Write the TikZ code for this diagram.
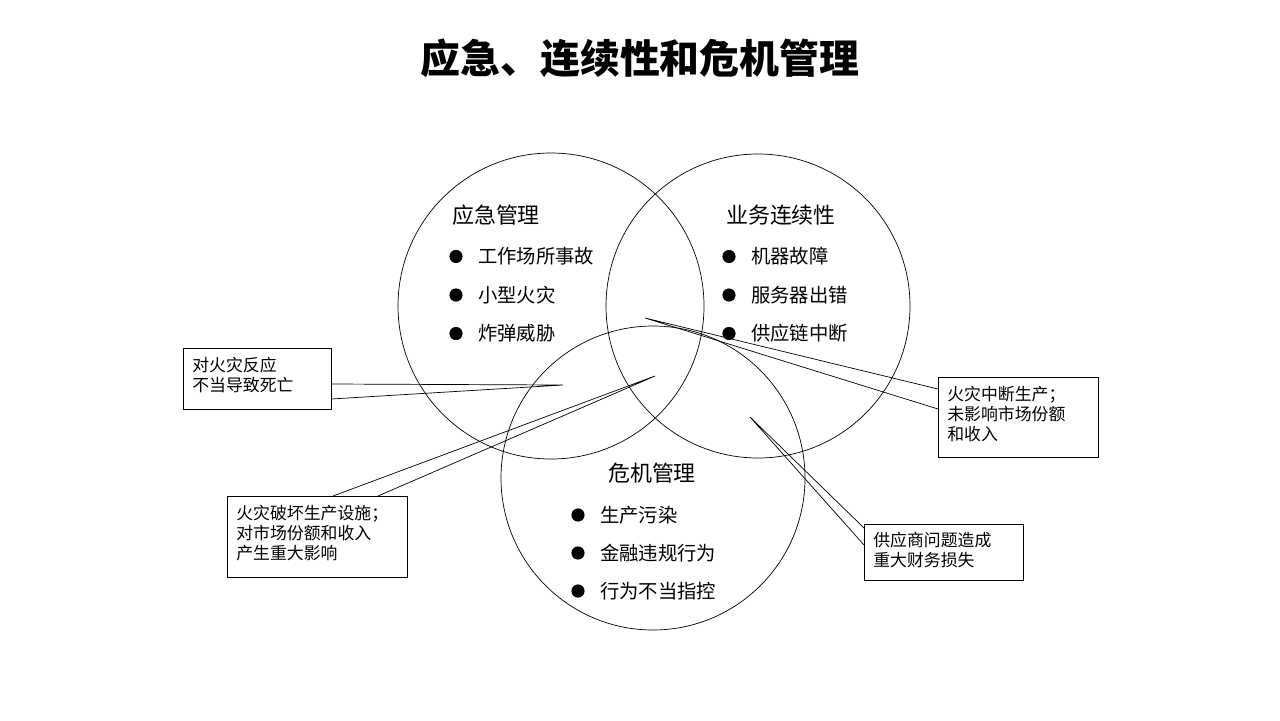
\documentclass[tikz,border=0pt]{standalone}
\usepackage{fontspec}
\setmainfont{Noto Sans CJK SC}
\usetikzlibrary{positioning}
\tikzset{
  ring/.style={draw, thin},
  head/.style={font=\fontsize{12.5}{14}\selectfont},
  item/.style={anchor=west, font=\fontsize{11}{13}\selectfont},
  dot/.style={circle, fill=black, inner sep=0pt, minimum size=7.5pt},
  box/.style={draw, fill=white, anchor=north west, inner sep=0pt},
  ctext/.style={anchor=north west, align=left, inner sep=0pt,
    font=\fontsize{9.6}{11.3}\selectfont},
  wedge/.style={draw, thin}
}
\begin{document}
\begin{tikzpicture}[x=0.02cm,y=-0.02cm]
\useasboundingbox (0,0) rectangle (1280,720);
\node [font=\bfseries\fontsize{22.7}{25}\selectfont] (title) at (640,58) {应急、连续性和危机管理};
% circles
\draw [ring] (551,306) circle (153);
\draw [ring] (758,306) circle (152);
\draw [ring] (653,478) circle (152);
% headings
\node [head] (em) at (496,215) {应急管理};
\node [head] (bc) at (781,215) {业务连续性};
\node [head] (cm) at (652,473) {危机管理};
% items
\foreach \t [count=\i] in {工作场所事故,小型火灾,炸弹威胁} {
  \node [dot] at (456,218+38.5*\i) {};
  \node [item] at (472,218+38.5*\i) {\t};
}
\foreach \t [count=\i] in {机器故障,服务器出错,供应链中断} {
  \node [dot] at (729,218+38.5*\i) {};
  \node [item] at (745,218+38.5*\i) {\t};
}
\foreach \t [count=\i] in {生产污染,金融违规行为,行为不当指控} {
  \node [dot] at (578,477+38*\i) {};
  \node [item] at (594,477+38*\i) {\t};
}
% callouts
\coordinate (t1) at (563,385);
\coordinate (t2) at (655,376);
\coordinate (t3) at (645,318);
\coordinate (t4) at (750,417);
\draw [wedge] (331,384) -- (t1) -- (331,399);
\draw [wedge] (333,496) -- (t2) -- (378,496);
\draw [wedge] (938,389) -- (t3) -- (938,409);
\draw [wedge] (864,528) -- (t4) -- (864,545);
\node [box, minimum width=148*0.02cm, minimum height=61*0.02cm] (c1) at (183,348) {};
\node [box, minimum width=180*0.02cm, minimum height=81*0.02cm] (c2) at (227,496) {};
\node [box, minimum width=160*0.02cm, minimum height=80*0.02cm] (c3) at (938,377) {};
\node [box, minimum width=159*0.02cm, minimum height=56*0.02cm] (c4) at (864,524) {};
\node [ctext] at ([xshift=9*0.02cm, yshift=-9*0.02cm]c1.north west) {对火灾反应\\不当导致死亡};
\node [ctext] at ([xshift=9*0.02cm, yshift=-9*0.02cm]c2.north west) {火灾破坏生产设施；\\对市场份额和收入\\产生重大影响};
\node [ctext] at ([xshift=9*0.02cm, yshift=-9*0.02cm]c3.north west) {火灾中断生产；\\未影响市场份额\\和收入};
\node [ctext] at ([xshift=9*0.02cm, yshift=-8*0.02cm]c4.north west) {供应商问题造成\\重大财务损失};
\end{tikzpicture}
\end{document}
